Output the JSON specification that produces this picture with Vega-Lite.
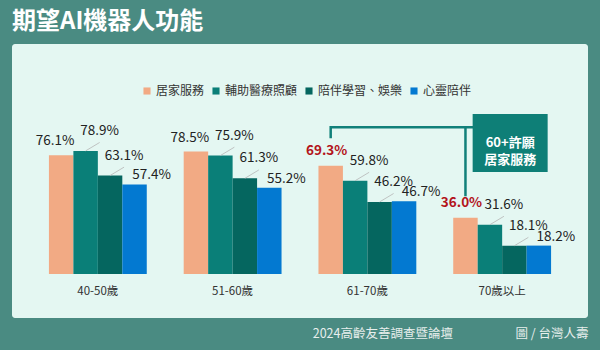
{
  "$schema": "https://vega.github.io/schema/vega-lite/v6.json",
  "width": 576,
  "height": 274,
  "autosize": {"type": "none"},
  "padding": {"left": 12, "top": 44, "right": 12, "bottom": 32},
  "background": "#4a8b82",
  "config": {
    "font": "Noto Sans CJK TC",
    "view": {"fill": "#e4f7f2", "stroke": null, "cornerRadius": 3}
  },
  "title": {
    "text": "期望AI機器人功能",
    "anchor": "start",
    "frame": "group",
    "color": "#ffffff",
    "fontSize": 24,
    "fontWeight": "bold",
    "font": "Noto Sans CJK TC",
    "offset": 10
  },
  "datasets": {
    "main": [
      {"age": "40-50歲", "series": "居家服務", "v": 0.761},
      {"age": "40-50歲", "series": "輔助醫療照顧", "v": 0.789},
      {"age": "40-50歲", "series": "陪伴學習、娛樂", "v": 0.631},
      {"age": "40-50歲", "series": "心靈陪伴", "v": 0.574},
      {"age": "51-60歲", "series": "居家服務", "v": 0.785},
      {"age": "51-60歲", "series": "輔助醫療照顧", "v": 0.759},
      {"age": "51-60歲", "series": "陪伴學習、娛樂", "v": 0.613},
      {"age": "51-60歲", "series": "心靈陪伴", "v": 0.552},
      {"age": "61-70歲", "series": "居家服務", "v": 0.693},
      {"age": "61-70歲", "series": "輔助醫療照顧", "v": 0.598},
      {"age": "61-70歲", "series": "陪伴學習、娛樂", "v": 0.462},
      {"age": "61-70歲", "series": "心靈陪伴", "v": 0.467},
      {"age": "70歲以上", "series": "居家服務", "v": 0.36},
      {"age": "70歲以上", "series": "輔助醫療照顧", "v": 0.316},
      {"age": "70歲以上", "series": "陪伴學習、娛樂", "v": 0.181},
      {"age": "70歲以上", "series": "心靈陪伴", "v": 0.182}
    ],
    "bracket": [
      {"age": "61-70歲", "series": "居家服務", "v": 0.878, "seg": "a", "o": 1},
      {"age": "61-70歲", "series": "居家服務", "v": 0.94, "seg": "a", "o": 2},
      {"age": "70歲以上", "series": "輔助醫療照顧", "v": 0.94, "seg": "a", "o": 3},
      {"age": "70歲以上", "series": "居家服務", "v": 0.94, "seg": "b", "o": 1},
      {"age": "70歲以上", "series": "居家服務", "v": 0.506, "seg": "b", "o": 2}
    ],
    "box": [
      {"age": "70歲以上", "top": 1.026, "bottom": 0.654, "mid": 0.837, "t": ["60+許願", "居家服務"]}
    ]
  },
  "layer": [
    {
      "data": {"name": "main"},
      "mark": {"type": "bar"},
      "encoding": {
        "x": {
          "field": "age", "type": "nominal", "sort": null,
          "scale": {"paddingInner": 0.274, "paddingOuter": 0.274},
          "axis": {
            "orient": "bottom", "offset": -44, "domain": false, "ticks": false, "tickSize": 0,
            "labelPadding": 11, "labelAngle": 0, "labelFontSize": 11.5, "labelColor": "#333333",
            "title": "2024高齡友善調查暨論壇\u3000\u3000\u3000\u3000\u3000圖 / 台灣人壽",
            "titleAnchor": "end", "titleBaseline": "middle", "titleY": 59,
            "titleFontSize": 12.5, "titleFontWeight": "normal", "titleColor": "#e8efed"
          }
        },
        "xOffset": {
          "field": "series", "type": "nominal",
          "sort": ["居家服務", "輔助醫療照顧", "陪伴學習、娛樂", "心靈陪伴"],
          "scale": {"paddingInner": 0, "paddingOuter": 0}
        },
        "y": {
          "field": "v", "type": "quantitative",
          "scale": {"domain": [-0.282, 1.474], "nice": false, "zero": false},
          "axis": null
        },
        "color": {
          "field": "series", "type": "nominal",
          "sort": ["居家服務", "輔助醫療照顧", "陪伴學習、娛樂", "心靈陪伴"],
          "scale": {
            "domain": ["居家服務", "輔助醫療照顧", "陪伴學習、娛樂", "心靈陪伴"],
            "range": ["#f2aa84", "#0a7f78", "#05665f", "#0379d1"]
          },
          "legend": {
            "orient": "none", "legendX": 129, "legendY": 41, "direction": "horizontal",
            "title": null, "symbolType": "square", "symbolSize": 50, "symbolStrokeWidth": 0,
            "labelFontSize": 12, "labelColor": "#333333", "labelOffset": 3, "columnPadding": 5
          }
        }
      }
    },
    {
      "data": {"name": "main"},
      "transform": [{"filter": "datum.series === '輔助醫療照顧' || datum.series === '陪伴學習、娛樂'"}],
      "mark": {"type": "point", "shape": "M0,0L1,-0.6", "size": 784, "filled": false, "stroke": "#b5b5b5", "strokeWidth": 0.8, "opacity": 1},
      "encoding": {
        "x": {"field": "age", "type": "nominal", "sort": null},
        "xOffset": {"field": "series", "type": "nominal", "sort": ["居家服務", "輔助醫療照顧", "陪伴學習、娛樂", "心靈陪伴"]},
        "y": {"field": "v", "type": "quantitative"}
      }
    },
    {
      "data": {"name": "main"},
      "transform": [{"filter": "datum.series === '居家服務' && (datum.age === '40-50歲' || datum.age === '51-60歲')"}],
      "mark": {"type": "text", "fontSize": 13.5, "color": "#222222", "baseline": "middle", "dx": -6, "dy": -14},
      "encoding": {
        "x": {"field": "age", "type": "nominal", "sort": null},
        "xOffset": {"field": "series", "type": "nominal", "sort": ["居家服務", "輔助醫療照顧", "陪伴學習、娛樂", "心靈陪伴"]},
        "y": {"field": "v", "type": "quantitative"},
        "text": {"field": "v", "type": "quantitative", "format": ".1%"}
      }
    },
    {
      "data": {"name": "main"},
      "transform": [{"filter": "datum.series === '居家服務' && (datum.age === '61-70歲' || datum.age === '70歲以上')"}],
      "mark": {"type": "text", "fontSize": 13.5, "fontWeight": "bold", "color": "#b3141b", "baseline": "middle", "dx": -4, "dy": -15},
      "encoding": {
        "x": {"field": "age", "type": "nominal", "sort": null},
        "xOffset": {"field": "series", "type": "nominal", "sort": ["居家服務", "輔助醫療照顧", "陪伴學習、娛樂", "心靈陪伴"]},
        "y": {"field": "v", "type": "quantitative"},
        "text": {"field": "v", "type": "quantitative", "format": ".1%"}
      }
    },
    {
      "data": {"name": "main"},
      "transform": [{"filter": "datum.series === '輔助醫療照顧' || datum.series === '陪伴學習、娛樂'"}],
      "mark": {"type": "text", "fontSize": 13.5, "color": "#222222", "baseline": "middle", "dx": 14, "dy": -20},
      "encoding": {
        "x": {"field": "age", "type": "nominal", "sort": null},
        "xOffset": {"field": "series", "type": "nominal", "sort": ["居家服務", "輔助醫療照顧", "陪伴學習、娛樂", "心靈陪伴"]},
        "y": {"field": "v", "type": "quantitative"},
        "text": {"field": "v", "type": "quantitative", "format": ".1%"}
      }
    },
    {
      "data": {"name": "main"},
      "transform": [{"filter": "datum.series === '心靈陪伴'"}],
      "mark": {"type": "text", "fontSize": 13.5, "color": "#222222", "baseline": "middle", "dx": 17, "dy": -9},
      "encoding": {
        "x": {"field": "age", "type": "nominal", "sort": null},
        "xOffset": {"field": "series", "type": "nominal", "sort": ["居家服務", "輔助醫療照顧", "陪伴學習、娛樂", "心靈陪伴"]},
        "y": {"field": "v", "type": "quantitative"},
        "text": {"field": "v", "type": "quantitative", "format": ".1%"}
      }
    },
    {
      "data": {"name": "bracket"},
      "mark": {"type": "line", "color": "#11807a", "strokeWidth": 2.5, "strokeCap": "square"},
      "encoding": {
        "x": {"field": "age", "type": "nominal", "sort": null},
        "xOffset": {"field": "series", "type": "nominal", "sort": ["居家服務", "輔助醫療照顧", "陪伴學習、娛樂", "心靈陪伴"]},
        "y": {"field": "v", "type": "quantitative"},
        "detail": {"field": "seg", "type": "nominal"},
        "order": {"field": "o", "type": "quantitative"}
      }
    },
    {
      "data": {"name": "box"},
      "mark": {"type": "bar", "width": 75, "xOffset": 8, "color": "#0e7f77"},
      "encoding": {
        "x": {"field": "age", "type": "nominal", "sort": null},
        "y": {"field": "top", "type": "quantitative"},
        "y2": {"field": "bottom"}
      }
    },
    {
      "data": {"name": "box"},
      "mark": {"type": "text", "fontSize": 13, "fontWeight": "bold", "color": "#ffffff", "baseline": "middle", "lineHeight": 17, "dx": 8},
      "encoding": {
        "x": {"field": "age", "type": "nominal", "sort": null},
        "y": {"field": "mid", "type": "quantitative"},
        "text": {"field": "t"}
      }
    }
  ]
}
